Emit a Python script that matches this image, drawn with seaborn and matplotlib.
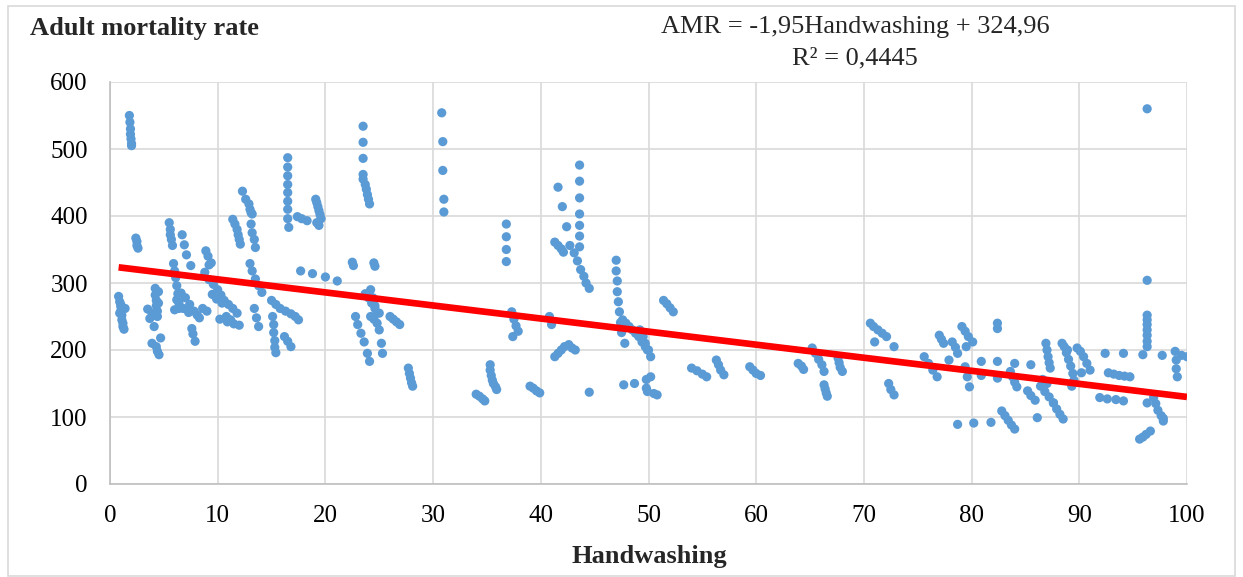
import numpy as np
import pandas as pd
import matplotlib
matplotlib.use("Agg")
import matplotlib.pyplot as plt
import seaborn as sns
from matplotlib.patches import Rectangle

# ---- data (Handwashing %, adult mortality rate) ----
hw_a = [0.8, 0.9, 1.0, 1.0, 1.1, 1.1, 1.2, 1.2, 1.3, 1.4, 0.9, 1.0,
        1.8, 1.85, 1.9, 1.9, 1.95, 2.0, 2.0,
        2.4, 2.5, 2.5, 2.6,
        3.5, 3.7, 3.9, 4.2, 4.2, 4.3, 4.3, 4.4, 4.4, 4.5, 4.5,
        4.1, 3.9, 4.3, 4.55, 4.7, 4.4,
        5.5, 5.6, 5.6, 5.7, 5.8,
        5.9, 6.0, 6.1, 6.2, 6.3, 6.4, 6.0, 6.2, 6.4,
        6.7, 6.9, 7.1, 7.5,
        6.6, 7.0, 7.4, 7.8, 8.1, 8.3, 6.8, 7.3,
        7.6, 7.7, 7.9,
        8.9, 9.1, 9.4, 9.2,
        8.8, 9.2, 9.6, 10.0, 10.3, 10.6, 11.0, 11.4, 11.8, 9.5, 9.9, 10.4,
        10.8, 11.2, 8.6, 9.0, 10.2, 10.9, 11.5, 12.0,
        11.4, 11.6, 11.8, 11.9, 12.0, 12.1,
        12.3, 12.6, 12.9, 13.0, 13.1, 13.2,
        13.1, 13.2, 13.4, 13.5,
        13.0, 13.2, 13.5, 13.8, 14.1, 13.4, 13.6, 13.8]
amr_a = [280, 272, 265, 258, 252, 245, 240, 235, 231, 262, 255, 268,
         550, 540, 530, 522, 515, 508, 505,
         367, 362, 356, 352,
         261, 247, 255, 292, 282, 274, 266, 258, 250, 287, 270,
         235, 210, 205, 193, 218, 198,
         390, 380, 372, 365, 356,
         329, 318, 308, 296, 284, 270, 260, 275, 262,
         372, 357, 342, 326,
         285, 278, 268, 258, 252, 248, 262, 256,
         232, 224, 213,
         348, 340, 330, 327,
         316, 305, 298, 290, 282, 274, 268, 262, 255, 283, 276, 270,
         250, 245, 262, 258, 246, 242, 239, 237,
         395, 388, 380, 372, 365, 358,
         437, 425, 418, 410, 405, 403,
         388, 375, 365, 353,
         329, 318, 306, 296, 286, 262, 248, 235]

hw_b = [15.0, 15.4, 15.8, 16.3, 16.8, 17.2, 17.5,
        15.1, 15.2, 15.2, 15.3, 15.3, 15.4,
        16.2, 16.5, 16.8,
        16.5, 16.5, 16.5, 16.5, 16.5, 16.5, 16.5, 16.5, 16.6,
        17.4, 17.8, 18.3,
        19.1, 19.2, 19.3, 19.4, 19.5, 19.6, 19.2, 19.4,
        17.7, 18.8, 20.0, 21.1,
        22.5, 22.6, 24.5, 24.6,
        23.5, 23.5, 23.5, 23.5, 23.5, 23.7, 23.8, 23.9, 24.0, 24.1,
        23.7, 24.0, 24.3, 24.6, 25.0, 24.2, 24.5, 24.8,
        22.8, 23.0, 23.3, 23.6, 23.9, 24.1,
        24.2, 24.4, 24.6, 24.8, 25.0, 25.2, 25.3,
        26.0, 26.3, 26.6, 26.9,
        27.7, 27.8, 27.9, 28.0, 28.1,
        30.8, 30.9, 30.9, 31.0, 31.0]
amr_b = [274, 268, 262, 258, 254, 250, 245,
         250, 238, 226, 214, 204, 196,
         220, 213, 205,
         487, 473, 460, 447, 435, 422, 410, 396, 383,
         399, 396, 393,
         425, 420, 414, 408, 402, 396, 390, 386,
         318, 314, 309, 303,
         331, 326, 330, 325,
         534, 510, 486, 462, 455, 447, 440, 432, 425, 418,
         284, 278, 270, 262, 255, 250, 246, 240,
         250, 238, 225, 212, 195, 183,
         290, 278, 266, 255, 230, 210, 195,
         250, 246, 242, 238,
         173, 165, 158, 151, 146,
         554, 511, 468, 425, 406]

hw_c = [34.0, 34.3, 34.6, 34.8,
        35.3, 35.3, 35.4, 35.5, 35.6, 35.8, 35.9,
        36.8, 36.8, 36.8, 36.8,
        37.3, 37.5, 37.7, 37.9, 37.4,
        39.0, 39.3, 39.6, 39.9,
        40.8, 41.0,
        41.3, 41.6, 41.9, 42.2, 42.6, 42.9, 43.2,
        41.6, 42.0, 42.4,
        41.3, 41.6, 41.9, 42.1,
        42.7, 43.1, 43.4, 43.7, 44.0, 44.2, 44.5,
        43.6, 43.6, 43.6, 43.6, 43.6, 43.6, 43.6,
        44.5,
        47.0, 47.0, 47.1, 47.1, 47.2, 47.3, 47.4, 47.5, 47.8,
        47.6, 47.9, 48.2, 48.5, 48.8, 49.1, 49.4, 49.7, 49.9,
        47.7, 48.7, 49.8, 49.8, 49.9, 50.2, 50.5, 50.8,
        49.2, 49.5, 49.7, 50.0, 50.2,
        51.4, 51.7, 52.0, 52.3]
amr_c = [134, 131, 127, 124,
         178, 170, 162, 155, 150, 145, 141,
         388, 369, 350, 332,
         257, 246, 236, 228, 220,
         146, 143, 139, 136,
         250, 238,
         190, 195, 200, 205, 208, 203, 200,
         443, 414, 384,
         361, 356, 351, 346,
         356, 345, 333, 320, 310, 300, 292,
         476, 452, 427, 403, 386, 370, 354,
         137,
         334, 318, 303, 287, 272, 257, 241, 226, 210,
         245, 240, 235, 230, 225, 220, 212, 205, 200,
         148, 150, 156, 143, 138, 160, 135, 133,
         230, 220, 210, 200, 190,
         274, 269, 263, 257]

hw_d = [54.0, 54.5, 55.0, 55.4,
        56.3, 56.5, 56.7, 57.0,
        59.4, 59.7, 60.0, 60.4,
        63.9, 64.2, 64.4,
        65.2, 65.5, 65.8, 66.1, 66.3,
        66.3, 66.4, 66.5, 66.6,
        67.6, 67.7, 67.8, 68.0,
        70.6, 70.9, 71.3, 71.7, 72.1, 71.0,
        72.8, 72.3, 72.5, 72.8,
        75.6, 76.0, 76.4, 76.8,
        77.0, 77.2, 77.4, 77.9,
        78.2, 78.5, 78.7,
        78.7, 80.2, 81.8,
        79.1, 79.4, 79.7, 80.1, 79.5, 79.4, 79.6, 79.8,
        80.9, 80.9, 82.4, 82.4, 82.4, 82.4,
        82.8, 83.1, 83.4, 83.7, 84.0,
        83.6, 83.8, 84.0, 84.2, 84.0, 85.5,
        85.2, 85.5, 85.9, 86.1]
amr_d = [173, 169, 164, 160,
         185, 178, 170, 163,
         175, 170, 165, 162,
         180, 176, 171,
         203, 195, 186, 178, 168,
         148, 142, 136, 131,
         188, 181, 174, 168,
         240, 235, 230, 225, 220, 212,
         205, 150, 141, 133,
         190, 180, 170, 160,
         222, 216, 210, 185,
         212, 204, 195,
         89, 91, 92,
         235, 228, 220, 212, 205, 175, 160, 145,
         183, 162, 240, 232, 183, 158,
         109, 102, 95, 88, 82,
         168, 160, 152, 145, 180, 178,
         139, 132, 125, 99]

hw_e = [86.4, 86.8, 87.2, 87.6, 86.6, 87.0,
        86.9, 87.0, 87.1, 87.2, 87.3,
        87.6, 87.9, 88.2, 88.5,
        88.4, 88.6, 88.8, 89.0, 89.2, 89.4, 89.5, 88.9, 89.3,
        89.8, 90.1, 90.4, 90.7, 91.0, 90.2,
        92.4, 94.1,
        92.7, 93.2, 93.7, 94.2, 94.7,
        91.9, 92.6, 93.4, 94.1,
        95.9, 97.7,
        96.3, 96.3,
        96.3, 96.3, 96.3, 96.3, 96.3, 96.3, 96.3,
        96.3,
        95.6, 95.9, 96.2, 96.6,
        96.9, 97.1, 97.3, 97.6, 97.8, 97.8,
        98.9, 99.0, 99.0, 99.1, 99.5, 100.0]
amr_e = [146, 138, 130, 121, 156, 150,
         210, 200, 190, 181, 173,
         121, 112, 104, 97,
         210, 205, 196, 186, 176, 165, 155, 200, 146,
         203, 198, 190, 180, 170, 166,
         195, 195,
         166, 164, 162, 161, 160,
         129, 127, 126, 124,
         193, 192,
         560, 304,
         252, 245, 238, 230, 222, 213, 205,
         121,
         67, 70, 74, 79,
         129, 120, 110, 102, 94, 98,
         198, 185, 172, 160, 192, 190]

# trendline coefficients as printed on the chart
slope, intercept = -1.95, 324.96

df = pd.DataFrame({
    "Handwashing": hw_a + hw_b + hw_c + hw_d + hw_e,
    "AMR": amr_a + amr_b + amr_c + amr_d + amr_e,
})

sns.set_theme(style="whitegrid")
plt.rcParams["font.family"] = ["Liberation Serif", "DejaVu Serif"]

fig = plt.figure(figsize=(12.43, 5.77), dpi=100)
ax = fig.add_axes([110 / 1243, 1 - 484 / 577, 1077 / 1243, 402 / 577])

sns.scatterplot(data=df, x="Handwashing", y="AMR", ax=ax, color="#5b9bd5",
                s=44, edgecolor="none", zorder=3, legend=False)

xs = np.array([df["Handwashing"].min(), 100.0])
ax.plot(xs, slope * xs + intercept, color="#ff0000", lw=4.8, zorder=4,
        solid_capstyle="butt")

ax.set_xlim(0, 100)
ax.set_ylim(0, 600)
ax.set_xticks(np.arange(0, 101, 10))
ax.set_yticks(np.arange(0, 601, 100))
ax.grid(True, color="#d9d9d9", lw=1.2)
ax.set_facecolor("white")
for side in ["top", "right"]:
    ax.spines[side].set_visible(False)
for side in ["left", "bottom"]:
    ax.spines[side].set_color("#bfbfbf")
    ax.spines[side].set_linewidth(1.2)
ax.tick_params(axis="y", labelsize=18, colors="black", length=0, pad=16)
ax.tick_params(axis="x", labelsize=18, colors="black", length=0, pad=15)
ax.set_xlabel("")
ax.set_ylabel("")

fig.text(30 / 1243, 1 - 35 / 577, "Adult mortality rate", fontsize=19,
         fontweight="bold", ha="left", va="baseline")
fig.text(855 / 1243, 1 - 33 / 577, "AMR = -1,95Handwashing + 324,96",
         fontsize=19, ha="center", va="baseline")
fig.text(855 / 1243, 1 - 64 / 577, "R² = 0,4445", fontsize=19,
         ha="center", va="baseline")
fig.text(649 / 1243, 1 - 563 / 577, "Handwashing", fontsize=19,
         fontweight="bold", ha="center", va="baseline")

fig.patches.append(Rectangle((8 / 1243, 0.002), 1 - 16 / 1243, 1 - 7 / 577,
                             transform=fig.transFigure, fill=False,
                             edgecolor="#d9d9d9", lw=1.2))

fig.savefig("out.png", dpi=100, facecolor="white")
